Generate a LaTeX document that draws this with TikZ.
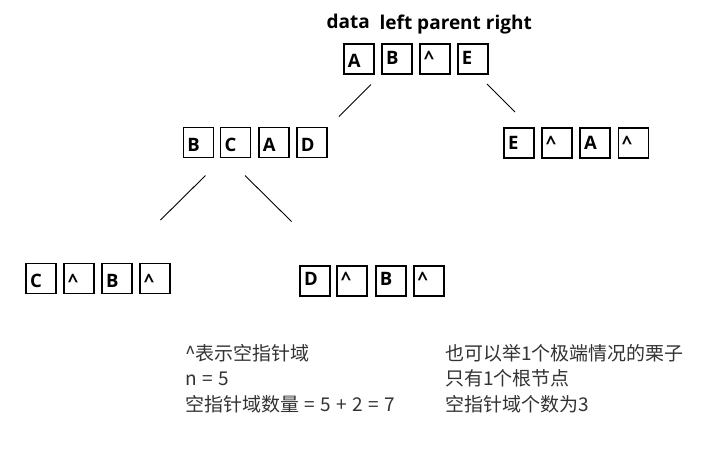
\documentclass[tikz,border=0pt]{standalone}
\usepackage{fontspec}
\newfontfamily\osfont{Open Sans}
\newfontfamily\cjkfont{Noto Sans CJK SC}
\newcommand{\wsp}{\hspace{5.5pt}}
\begin{document}
\begin{tikzpicture}[x=1pt,y=-1pt,
  cell/.style={draw=black, line width=1.4pt, inner xsep=4pt, inner ysep=0pt,
    text width=22pt, align=left, text depth=#1, text height={30pt-#1},
    font=\osfont\bfseries\fontsize{18.5}{18.5}\selectfont},
  cell/.default=6.7pt,
  link/.style={draw=black, line width=0.9pt},
  note/.style={anchor=base west, inner sep=0pt, text=black!80,
    font=\cjkfont\fontsize{19}{24}\selectfont},
  head/.style={anchor=base west, inner sep=0pt,
    font=\osfont\bfseries\fontsize{19}{20}\selectfont}]
\useasboundingbox[fill=white] (0,0) rectangle (704,448);

% header labels
\node[head] (hdata) at (326.5,28.5) {data};
\node[head] (hrest) at (379.5,29) {left parent right};

% top row
\node[cell=6.7pt] (t1) at (358.8,59) {A};
\node[cell=10pt] (t2) at (397,59) {B};
\node[cell=10pt] (t3) at (435,59) {\textasciicircum};
\node[cell=10pt] (t4) at (472.8,59) {E};

% middle left row
\node[cell] (m1) at (198.3,142.7) {B};
\node[cell] (m2) at (235.7,142.7) {C};
\node[cell] (m3) at (273.8,142.7) {A};
\node[cell] (m4) at (311.8,142.7) {D};

% middle right row
\node[cell=9pt] (r1) at (519,143) {E};
\node[cell=9pt] (r2) at (557,143) {\textasciicircum};
\node[cell=9pt] (r3) at (595,143) {A};
\node[cell=9pt] (r4) at (633.2,143) {\textasciicircum};

% bottom left row
\node[cell] (b1) at (41,278.7) {C};
\node[cell] (b2) at (79,278.7) {\textasciicircum};
\node[cell] (b3) at (117,278.7) {B};
\node[cell] (b4) at (155,278.7) {\textasciicircum};

% bottom right row
\node[cell=10.7pt] (d1) at (315,281) {D};
\node[cell=10.7pt] (d2) at (352,281) {\textasciicircum};
\node[cell=10.7pt] (d3) at (390.8,281) {B};
\node[cell=10.7pt] (d4) at (428.8,281) {\textasciicircum};

% connector end points
\coordinate (l1a) at (371,84.5);
\coordinate (l1b) at (339,116.5);
\coordinate (l2a) at (487,84);
\coordinate (l2b) at (515,112);
\coordinate (l3a) at (205.5,175.5);
\coordinate (l3b) at (160.5,220);
\coordinate (l4a) at (245,175.5);
\coordinate (l4b) at (291.5,221.5);
\draw[link] (l1a) -- (l1b);
\draw[link] (l2a) -- (l2b);
\draw[link] (l3a) -- (l3b);
\draw[link] (l4a) -- (l4b);

% notes
\node[note] (n1) at (185,360) {\textasciicircum 表示空指针域};
\node[note] (n2) at (185,385.5) {n\wsp=\wsp5};
\node[note] (n3) at (185,411) {空指针域数量\wsp=\wsp5\wsp+\wsp2\wsp=\wsp7};
\node[note] (n4) at (445,360) {也可以举1个极端情况的栗子};
\node[note] (n5) at (445,385.5) {只有1个根节点};
\node[note] (n6) at (445,411) {空指针域个数为3};
\end{tikzpicture}
\end{document}
